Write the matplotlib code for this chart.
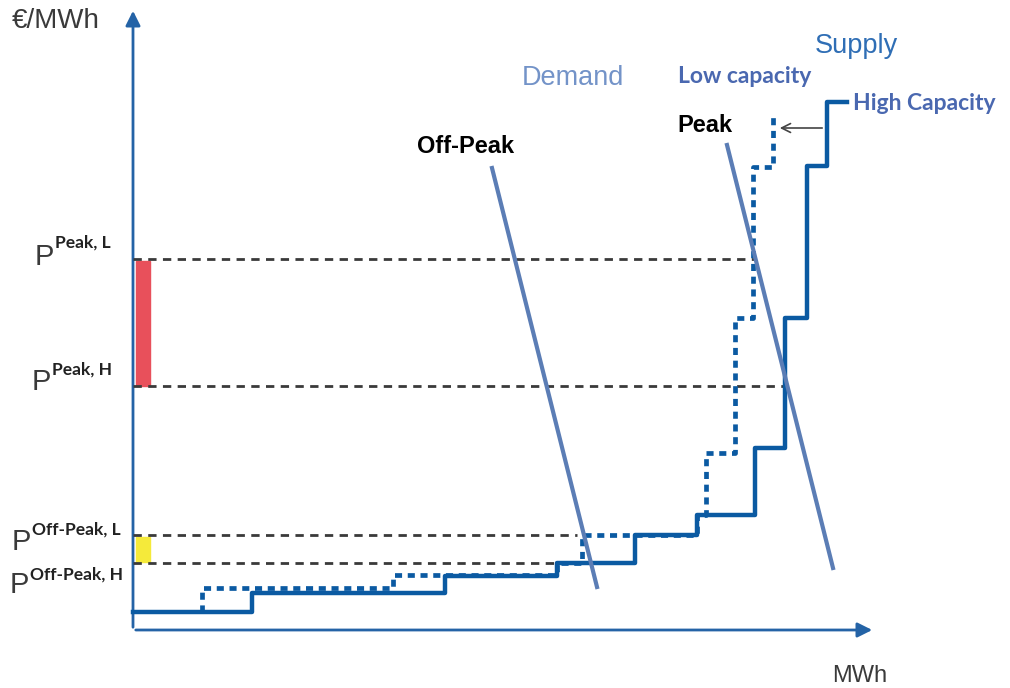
import numpy as np
import matplotlib
matplotlib.use("Agg")
import matplotlib.pyplot as plt
from matplotlib.patches import Rectangle

# schematic merit-order data (arbitrary units: quantity, price)
q_high = [0, 119, 312, 424, 502, 564, 622, 652, 674, 694, 714]
p_high = [18, 37, 54, 67, 95, 115, 182, 312, 464, 528, 528]

q_low = [69, 69, 260, 424, 449, 564, 573, 602, 620, 640]
p_low = [18, 42, 55, 67, 95, 115, 177, 312, 463, 518]

# demand curves (start, end)
q_dem_off = [359, 464]
p_dem_off = [462, 43]
q_dem_peak = [594, 700]
p_dem_peak = [485, 62]

# clearing prices
p_peak_L, p_peak_H = 371, 244
p_off_L, p_off_H = 95, 67
q_peak_L, q_peak_H = 622, 652
q_off_L, q_off_H = 444, 424

blue = '#0B5AA2'
dem_col = '#5B7DB5'
lab_col = '#4A68B0'

fig = plt.figure(figsize=(10.1, 6.88), dpi=100)
ax = fig.add_axes([0, 0, 1, 1])
ax.set_xlim(-133, 877)
ax.set_ylim(-58, 630)
ax.axis('off')

# axes arrows
ax.annotate('', xy=(0, 622), xytext=(0, 0),
            arrowprops=dict(arrowstyle='-|>', color='#2463A6', lw=2, mutation_scale=22))
ax.annotate('', xy=(742, 0), xytext=(0, 0),
            arrowprops=dict(arrowstyle='-|>', color='#2463A6', lw=2, mutation_scale=22))

# price ranges
ax.add_patch(Rectangle((3, p_peak_H), 14, p_peak_L - p_peak_H - 2, color='#E8505B', zorder=2))
ax.add_patch(Rectangle((3, p_off_H + 1), 14, p_off_L - p_off_H - 3, color='#F5EA3A', zorder=2))

# dashed price lines
for p, q in [(p_peak_L, q_peak_L), (p_peak_H, q_peak_H), (p_off_L, q_off_L), (p_off_H, q_off_H)]:
    ax.plot([0, q], [p, p], color='#3a3a3a', lw=2, ls=(0, (3, 2.3)), zorder=3)

# supply curves
ax.step(q_high, p_high, where='post', color=blue, lw=3.2, zorder=4)
ax.step(q_low, p_low, where='post', color=blue, lw=3.4, ls=(0, (1.5, 1.2)),
        dash_capstyle='butt', zorder=4)

# demand curves
ax.plot(q_dem_off, p_dem_off, color=dem_col, lw=3, zorder=5)
ax.plot(q_dem_peak, p_dem_peak, color=dem_col, lw=3, zorder=5)

# capacity shift arrow
ax.annotate('', xy=(644, 502), xytext=(692, 502),
            arrowprops=dict(arrowstyle='->', color='#444444', lw=1.2, mutation_scale=16))

# texts
ax.text(-121, 602, '€/MWh', fontsize=20, color='#3a3a3a', family='Liberation Sans', va='baseline')
ax.text(699, -52, 'MWh', fontsize=17, color='#3a3a3a', family='Liberation Sans', va='baseline')
ax.text(682, 577, 'Supply', fontsize=19.5, color='#2F6EB5', family='Liberation Sans', va='baseline')
ax.text(389, 545, 'Demand', fontsize=19.5, color='#7393C8', family='Liberation Sans', va='baseline')
ax.text(545, 547, 'Low capacity', fontsize=16.5, color=lab_col, family='Lato', weight='bold', va='baseline')
ax.text(720, 520, 'High Capacity', fontsize=16.5, color=lab_col, family='Lato', weight='bold', va='baseline')
ax.text(544, 498, 'Peak', fontsize=17, color='black', family='Liberation Sans', weight='bold', va='baseline')
ax.text(284, 477, 'Off-Peak', fontsize=17, color='black', family='Liberation Sans', weight='bold', va='baseline')

p_labels = [
    ((-98, 365), (-78, 382), 'Peak, L'),
    ((-101, 240), (-81, 255), 'Peak, H'),
    ((-121, 80), (-101, 95), 'Off-Peak, L'),
    ((-123, 37), (-103, 50), 'Off-Peak, H'),
]
for pos_p, pos_s, sup in p_labels:
    ax.text(*pos_p, 'P', fontsize=21, color='#3a3a3a', family='Liberation Sans', va='baseline')
    ax.text(*pos_s, sup, fontsize=12.5, color='#222222', family='Lato', weight='bold', va='baseline')

fig.savefig('out.png', dpi=100)
